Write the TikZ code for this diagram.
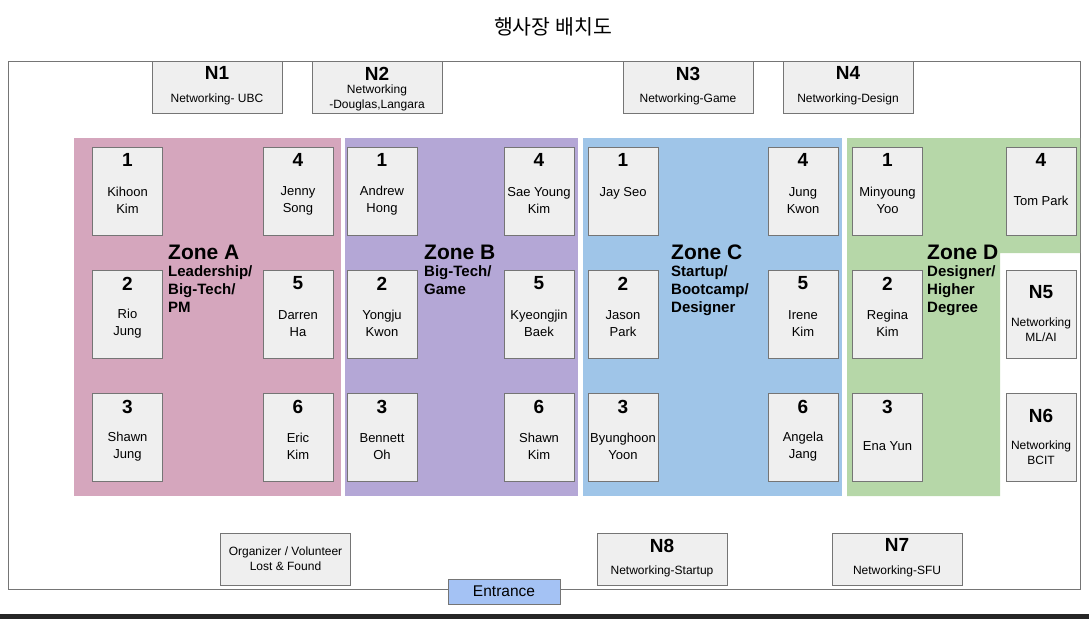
\documentclass[tikz,border=0pt]{standalone}
\usepackage{fontspec}
\setmainfont{Liberation Sans}
\newfontfamily\krfont{Noto Sans CJK KR}
\usetikzlibrary{positioning}
\definecolor{zonea}{HTML}{D5A6BD}
\definecolor{zoneb}{HTML}{B4A7D6}
\definecolor{zonec}{HTML}{9FC5E8}
\definecolor{zoned}{HTML}{B6D7A8}
\definecolor{seatfill}{HTML}{EFEFEF}
\definecolor{seatline}{HTML}{757575}
\definecolor{doorfill}{HTML}{A4C2F4}
\tikzset{
  seat/.style={draw=seatline, fill=seatfill, line width=0.9pt, inner sep=0pt,
    minimum width=70pt, minimum height=88pt},
  netbox/.style={draw=seatline, fill=seatfill, line width=0.9pt, inner sep=0pt,
    minimum width=130pt, minimum height=52pt},
  num/.style={inner sep=0pt, font=\fontsize{19}{19}\selectfont\bfseries},
  who/.style={inner sep=0pt, align=center, font=\fontsize{13}{17}\selectfont},
  netlabel/.style={inner sep=0pt, align=center, font=\fontsize{12}{15}\selectfont},
  zonetitle/.style={inner sep=0pt, anchor=west, font=\fontsize{21}{21}\selectfont\bfseries},
  zonesub/.style={inner sep=0pt, align=left, font=\fontsize{15}{18}\selectfont\bfseries},
}

\begin{document}
\begin{tikzpicture}[x=1pt, y=-1pt]
    \useasboundingbox (0,0) rectangle (1089,619);
    \fill[black!85] (0,614) rectangle (1089,619);

    \node[font=\krfont\fontsize{20.5}{20.5}\selectfont] (title) at (553,27) {행사장 배치도};
    \draw[seatline, line width=0.9pt] (8,61) rectangle (1080,589);

    % zones
    \fill[zonea] (74,138) rectangle (341,496);
    \fill[zoneb] (345,138) rectangle (578,496);
    \fill[zonec] (583,138) rectangle (842,496);
    \fill[zoned] (847,138) -- (1080,138) -- (1080,253) -- (1000,253) -- (1000,496) -- (847,496) -- cycle;

    \node[zonetitle] (zoneA) at (168,252) {Zone A};
    \node[zonesub, below right=6pt and 0pt of zoneA.south west] (zoneAsub) {Leadership/\\Big-Tech/\\PM};
    \node[zonetitle] (zoneB) at (424,252) {Zone B};
    \node[zonesub, below right=6pt and 0pt of zoneB.south west] (zoneBsub) {Big-Tech/\\Game};
    \node[zonetitle] (zoneC) at (671,252) {Zone C};
    \node[zonesub, below right=6pt and 0pt of zoneC.south west] (zoneCsub) {Startup/\\Bootcamp/\\Designer};
    \node[zonetitle] (zoneD) at (927,252) {Zone D};
    \node[zonesub, below right=6pt and 0pt of zoneD.south west] (zoneDsub) {Designer/\\Higher\\Degree};

    % tables
    \foreach \id/\x/\y/\n/\name in {
        a1/127.5/191/1/{Kihoon\\Kim}, a2/127.5/314/2/{Rio\\Jung}, a3/127.5/437/3/{Shawn\\Jung},
        a4/298/191/4/{Jenny\\Song}, a5/298/314/5/{Darren\\Ha}, a6/298/437/6/{Eric\\Kim},
        b1/382/191/1/{Andrew\\Hong}, b2/382/314/2/{Yongju\\Kwon}, b3/382/437/3/{Bennett\\Oh},
        b4/539/191/4/{Sae Young\\Kim}, b5/539/314/5/{Kyeongjin\\Baek}, b6/539/437/6/{Shawn\\Kim},
        c1/623/191/1/{Jay Seo\\\mbox{}}, c2/623/314/2/{Jason\\Park}, c3/623/437/3/{Byunghoon\\Yoon},
        c4/803/191/4/{Jung\\Kwon}, c5/803/314/5/{Irene\\Kim}, c6/803/437/6/{Angela\\Jang},
        d1/887.5/191/1/{Minyoung\\Yoo}, d2/887.5/314/2/{Regina\\Kim}, d3/887.5/437/3/{Ena Yun},
        d4/1041/191/4/{Tom Park}} {
        \node[seat] (\id) at (\x,\y) {};
        \node[num, below=7pt of \id.north] (\id-n) {\n};
        \node[who] (\id-t) at ([yshift=-9.5pt]\id.center) {\name};
    }

    % networking
    \node[seat] (n5) at (1041,314) {};
    \node[num, below=16pt of n5.north] (n5-n) {N5};
    \node[netlabel] (n5-t) at ([yshift=-15.5pt]n5.center) {Networking\\ML/AI};
    \node[seat] (n6) at (1041,437) {};
    \node[num, below=16pt of n6.north] (n6-n) {N6};
    \node[netlabel] (n6-t) at ([yshift=-15.5pt]n6.center) {Networking\\BCIT};

    \foreach \id/\x/\y/\n/\name in {
        n1/217/87/N1/{Networking- UBC}, n3/688/87/N3/{Networking-Game},
        n4/848/87/N4/{Networking-Design}, n8/662/559/N8/{Networking-Startup},
        n7/897/559/N7/{Networking-SFU}} {
        \node[netbox] (\id) at (\x,\y) {};
        \node[num, below=6pt of \id.north] (\id-n) {\n};
        \node[netlabel] (\id-t) at ([yshift=-12pt]\id.center) {\name};
    }
    \node[netbox] (n2) at (377,87) {};
    \node[num, below=6pt of n2.north] (n2-n) {N2};
    \node[netlabel] (n2-t) at ([yshift=-10.5pt]n2.center) {Networking\\-Douglas,Langara};

    \node[netbox, netlabel] (org) at (285.5,559) {Organizer / Volunteer\\Lost \& Found};
    \node[draw=seatline, fill=doorfill, line width=0.9pt, minimum width=112pt, minimum height=25pt,
        inner sep=0pt, font=\fontsize{15.5}{15.5}\selectfont] (entrance) at (504,591.5) {Entrance};
\end{tikzpicture}
\end{document}
